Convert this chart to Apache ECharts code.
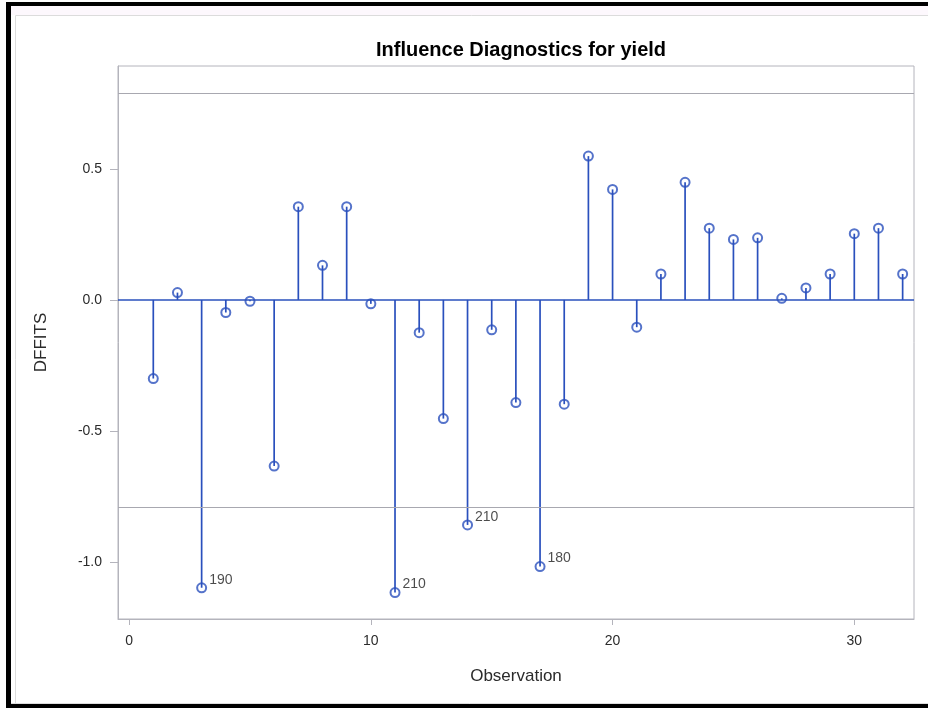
<!DOCTYPE html>
<html>
<head>
<meta charset="utf-8">
<title>Influence Diagnostics for yield</title>
<script src="https://cdn.jsdelivr.net/npm/echarts@6/dist/echarts.min.js"></script>
<style>
  html, body { margin: 0; padding: 0; background: #ffffff; }
  #chart { width: 928px; height: 708px; }
</style>
</head>
<body>
<div id="chart"></div>
<script>
// Observation numbers and their DFFITS values
const observations = [1, 2, 3, 4, 5, 6, 7, 8, 9, 10, 11, 12, 13, 14, 15, 16,
  17, 18, 19, 20, 21, 22, 23, 24, 25, 26, 27, 28, 29, 30, 31, 32];
const dffits = [-0.300, 0.028, -1.099, -0.048, -0.005, -0.634, 0.356, 0.132,
  0.356, -0.015, -1.117, -0.125, -0.453, -0.859, -0.114, -0.392,
  -1.018, -0.398, 0.549, 0.422, -0.104, 0.099, 0.449, 0.274,
  0.231, 0.237, 0.006, 0.046, 0.099, 0.253, 0.274, 0.099];

// Observations flagged beyond the cutoff, with their label text
const flaggedObs = [3, 11, 14, 17];
const flaggedText = ['190', '210', '210', '180'];

// Size-adjusted cutoff for DFFITS
const cutoff = 0.7906;

// Axis tick values
const xTicks = [0, 10, 20, 30];
const yTicks = [-1.0, -0.5, 0.0, 0.5];

const BLUE = '#2a50bd';
const FRAME = '#b4b4bc';
const TEXT = '#2b2b2b';
const FONT = '"Liberation Sans", Arial, sans-serif';

const points = observations.map((o, i) => {
  const k = flaggedObs.indexOf(o);
  const item = { value: [o, dffits[i]] };
  if (k >= 0) {
    item.label = { show: true, formatter: flaggedText[k] };
  }
  return item;
});

const chart = echarts.init(document.getElementById('chart'), null, { renderer: 'canvas' });

chart.setOption({
  animation: false,
  backgroundColor: '#ffffff',
  title: {
    text: 'Influence Diagnostics for yield',
    left: 516,
    top: 35,
    textAlign: 'center',
    textStyle: { fontFamily: FONT, fontSize: 20, fontWeight: 'bold', color: '#000000' }
  },
  graphic: [
    { type: 'rect', shape: { x: 11, y: 6, width: 917, height: 9 }, style: { fill: '#fdf8fd' }, silent: true },
    { type: 'line', shape: { x1: 15.5, y1: 15.5, x2: 928, y2: 15.5 }, style: { stroke: '#dcdcdc', lineWidth: 1 }, silent: true },
    { type: 'line', shape: { x1: 15.5, y1: 15.5, x2: 15.5, y2: 703.5 }, style: { stroke: '#dcdcdc', lineWidth: 1 }, silent: true },
    { type: 'line', shape: { x1: 11, y1: 703.5, x2: 928, y2: 703.5 }, style: { stroke: '#dcdcdc', lineWidth: 1 }, silent: true },
    { type: 'rect', shape: { x: 6, y: 2, width: 922, height: 4 }, style: { fill: '#000000' }, silent: true },
    { type: 'rect', shape: { x: 6, y: 2, width: 5, height: 706 }, style: { fill: '#000000' }, silent: true },
    { type: 'rect', shape: { x: 6, y: 704, width: 922, height: 4 }, style: { fill: '#000000' }, silent: true }
  ],
  grid: {
    left: 118,
    top: 66,
    right: 14,
    bottom: 89,
    show: true,
    borderColor: FRAME,
    borderWidth: 1,
    backgroundColor: '#ffffff'
  },
  xAxis: {
    type: 'value',
    min: -0.46,
    max: 32.47,
    name: 'Observation',
    nameLocation: 'middle',
    nameGap: 49,
    nameTextStyle: { fontFamily: FONT, fontSize: 17, color: TEXT },
    axisLine: { show: true, onZero: false, lineStyle: { color: FRAME, width: 1 } },
    axisTick: { show: true, customValues: xTicks, length: 6, lineStyle: { color: FRAME } },
    axisLabel: {
      customValues: xTicks,
      margin: 15,
      fontFamily: FONT,
      fontSize: 14,
      color: TEXT,
      formatter: v => String(Math.round(v))
    },
    splitLine: { show: false }
  },
  yAxis: {
    type: 'value',
    min: -1.218,
    max: 0.893,
    name: 'DFFITS',
    nameLocation: 'middle',
    nameGap: 68,
    nameRotate: 90,
    nameTextStyle: { fontFamily: FONT, fontSize: 17, color: TEXT },
    axisLine: { show: true, onZero: false, lineStyle: { color: FRAME, width: 1 } },
    axisTick: { show: true, customValues: yTicks, length: 8, lineStyle: { color: FRAME } },
    axisLabel: {
      customValues: yTicks,
      margin: 16,
      fontFamily: FONT,
      fontSize: 14,
      color: TEXT,
      formatter: v => v.toFixed(1)
    },
    splitLine: { show: false }
  },
  series: [
    {
      // cutoff reference lines and the zero baseline
      type: 'line',
      data: [],
      silent: true,
      markLine: {
        symbol: 'none',
        silent: true,
        label: { show: false },
        animation: false,
        data: [
          { yAxis: cutoff, lineStyle: { color: '#a8a8b0', width: 1, type: 'solid' } },
          { yAxis: -cutoff, lineStyle: { color: '#a8a8b0', width: 1, type: 'solid' } },
          { yAxis: 0, lineStyle: { color: BLUE, width: 1.6, type: 'solid' } }
        ]
      }
    },
    {
      // needles from zero to each value
      type: 'custom',
      silent: true,
      data: observations.map((o, i) => [o, dffits[i]]),
      renderItem: function (params, api) {
        const p0 = api.coord([api.value(0), 0]);
        const p1 = api.coord([api.value(0), api.value(1)]);
        return {
          type: 'line',
          shape: { x1: p0[0], y1: p0[1], x2: p1[0], y2: p1[1] },
          style: { stroke: BLUE, lineWidth: 1.7 }
        };
      }
    },
    {
      type: 'scatter',
      symbol: 'circle',
      symbolSize: 9,
      itemStyle: { color: 'rgba(255,255,255,0)', borderColor: BLUE, borderWidth: 2 },
      label: {
        show: false,
        position: 'right',
        distance: 2,
        offset: [0, -8],
        fontFamily: FONT,
        fontSize: 14,
        color: '#1e1e1e'
      },
      data: points,
      z: 5
    }
  ]
});
</script>
</body>
</html>
